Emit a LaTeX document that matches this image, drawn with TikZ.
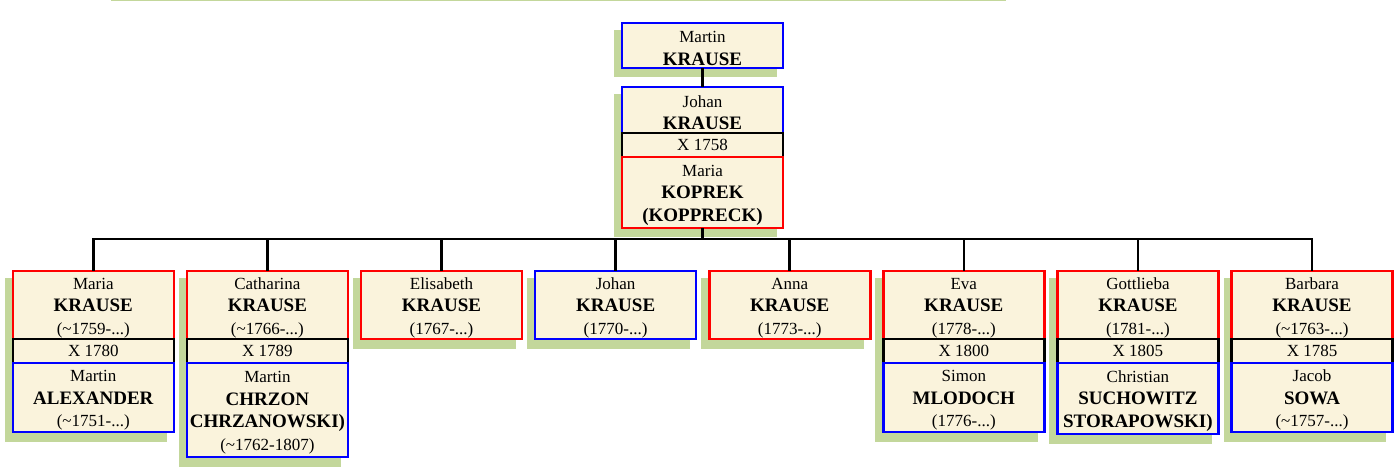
\documentclass[tikz,border=0pt]{standalone}
\usepackage{fontspec}
\setmainfont{Liberation Serif}
\usetikzlibrary{positioning, backgrounds}
\definecolor{cream}{RGB}{250,243,220}
\definecolor{leafgreen}{RGB}{195,215,155}
\newcommand{\sname}[1]{{\fontsize{19}{22.5}\selectfont\bfseries #1}}
\newcommand{\leafshadow}[2]{\fill[shade] ([shift={(-8pt,-7.5pt)}]#1.north west) rectangle ([shift={(-6.5pt,-9.5pt)}]#2.south east);}

\begin{document}
\begin{tikzpicture}[
    x=1pt, y=-1pt,
    every node/.style={font=\fontsize{17}{22.5}\selectfont},
    person/.style={rectangle, minimum width=161pt, text width=159pt, align=center,
                   inner sep=0pt, outer sep=0pt, text height=17pt, fill=cream, line width=2.6pt},
    male/.style={person, draw=blue},
    female/.style={person, draw=red},
    wedding/.style={rectangle, minimum width=161pt, minimum height=24pt, inner sep=0pt,
                    outer sep=0pt, fill=cream, draw=black, line width=2.6pt},
    link/.style={draw=black, line width=2.6pt},
    shade/.style={fill=leafgreen}
]
\useasboundingbox (0,0) rectangle (1400,470);
\draw[leafgreen, line width=1.5pt] (111,0.7) -- (1006,0.7);

% Parents
\node (grand) [male, minimum height=45pt, anchor=north] at (702.5,23) {Martin\\\sname{KRAUSE}};
\node (father) [male, minimum height=46pt, below=19pt of grand] {Johan\\\sname{KRAUSE}};
\node (fatherx) [wedding, below=0pt of father] {X 1758};
\node (mother) [female, minimum height=71pt, below=0pt of fatherx] {Maria\\\sname{KOPREK}\\\sname{(KOPPRECK)}};

% Children
\node (child1) [female, minimum height=68pt, anchor=north] at (93.3,271) {Maria\\\sname{KRAUSE}\\(\textasciitilde1759-...)};
\node (child2) [female, minimum height=68pt, right=13.1pt of child1] {Catharina\\\sname{KRAUSE}\\(\textasciitilde1766-...)};
\node (child3) [female, minimum height=68pt, right=13.1pt of child2] {Elisabeth\\\sname{KRAUSE}\\(1767-...)};
\node (child4) [male, minimum height=68pt, right=13.1pt of child3] {Johan\\\sname{KRAUSE}\\(1770-...)};
\node (child5) [female, minimum height=68pt, right=13.1pt of child4] {Anna\\\sname{KRAUSE}\\(1773-...)};
\node (child6) [female, minimum height=68pt, right=13.1pt of child5] {Eva\\\sname{KRAUSE}\\(1778-...)};
\node (child7) [female, minimum height=68pt, right=13.1pt of child6] {Gottlieba\\\sname{KRAUSE}\\(1781-...)};
\node (child8) [female, minimum height=68pt, right=13.1pt of child7] {Barbara\\\sname{KRAUSE}\\(\textasciitilde1763-...)};

% Marriages
\node (wed1) [wedding, below=0pt of child1] {X 1780};
\node (spouse1) [male, minimum height=69pt, below=0pt of wed1] {Martin\\\sname{ALEXANDER}\\(\textasciitilde1751-...)};
\node (wed2) [wedding, below=0pt of child2] {X 1789};
\node (spouse2) [male, minimum height=94pt, below=0pt of wed2] {Martin\\\sname{CHRZON}\\\sname{CHRZANOWSKI)}\\(\textasciitilde1762-1807)};
\node (wed6) [wedding, below=0pt of child6] {X 1800};
\node (spouse6) [male, minimum height=69pt, below=0pt of wed6] {Simon\\\sname{MLODOCH}\\(1776-...)};
\node (wed7) [wedding, below=0pt of child7] {X 1805};
\node (spouse7) [male, minimum height=71pt, below=0pt of wed7] {Christian\\\sname{SUCHOWITZ}\\\sname{STORAPOWSKI)}};
\node (wed8) [wedding, below=0pt of child8] {X 1785};
\node (spouse8) [male, minimum height=69pt, below=0pt of wed8] {Jacob\\\sname{SOWA}\\(\textasciitilde1757-...)};

% Lines
\coordinate (bar) at (0,239);
\draw [link] (grand) -- (father);
\draw [link] (mother.south) -- (mother.south |- bar);
\draw [link] (child1.north) -- (child1.north |- bar) -- (child8.north |- bar) -- (child8.north);
\draw [link] (child2.north) -- (child2.north |- bar);
\draw [link] (child3.north) -- (child3.north |- bar);
\draw [link] (child4.north) -- (child4.north |- bar);
\draw [link] (child5.north) -- (child5.north |- bar);
\draw [link] (child6.north) -- (child6.north |- bar);
\draw [link] (child7.north) -- (child7.north |- bar);

% Shadows
\begin{scope}[on background layer]
\leafshadow{grand}{grand}
\leafshadow{father}{mother}
\leafshadow{child1}{spouse1}
\leafshadow{child2}{spouse2}
\leafshadow{child3}{child3}
\leafshadow{child4}{child4}
\leafshadow{child5}{child5}
\leafshadow{child6}{spouse6}
\leafshadow{child7}{spouse7}
\leafshadow{child8}{spouse8}
\end{scope}

\end{tikzpicture}
\end{document}
